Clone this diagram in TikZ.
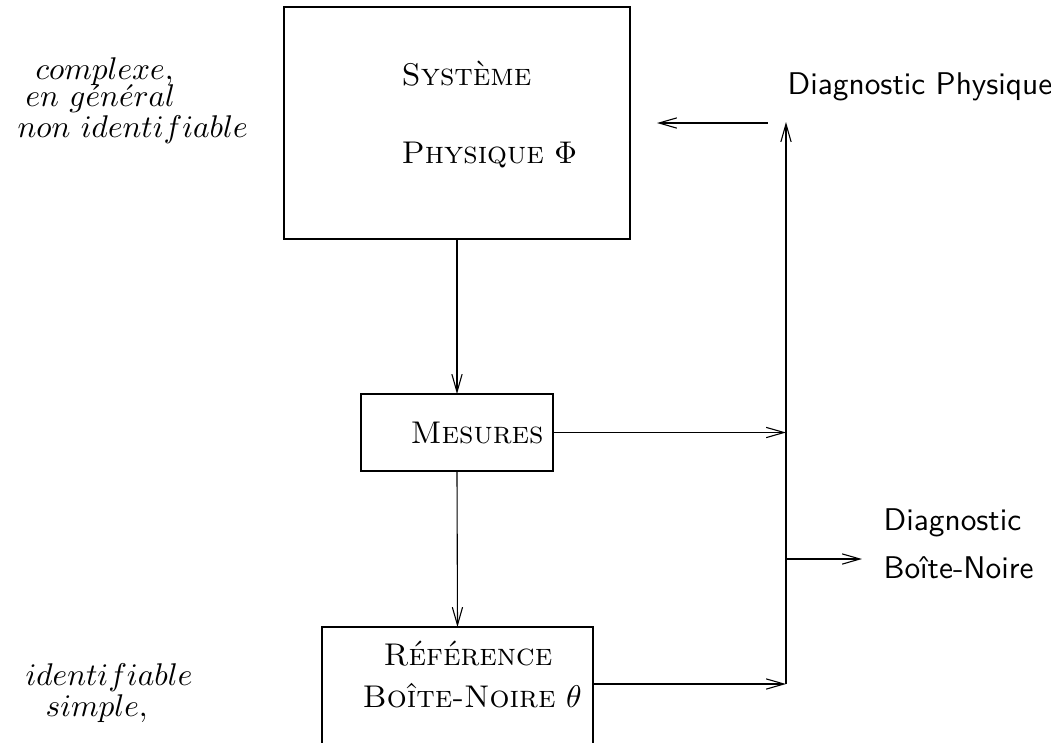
\documentclass[tikz,border=0pt]{standalone}
\usetikzlibrary{arrows.meta}

\newcommand\pxu{0.0112cm}

\begin{document}
\begin{tikzpicture}[
  x=\pxu, y=-\pxu,
  arr/.style={-{Straight Barb[length=2.0mm, width=1.15mm]}, line width=0.35pt},
  box/.style={rectangle, draw, line width=0.45pt, inner sep=0pt, outer sep=0pt},
  lbl/.style={inner sep=0pt, anchor=base west},
  note/.style={lbl, font=\normalsize},
  diag/.style={lbl, font=\sffamily},
]
\useasboundingbox (0,0) rectangle (1051,742);
\clip (0,0) rectangle (1051,742);

% ---------------------------------------------------------------- boxes
\node[box, minimum width=346*\pxu, minimum height=232*\pxu] (sys) at (457,123) {};
\node[box, minimum width=192*\pxu, minimum height=77*\pxu]  (mes) at (457,432.5) {};
\node[box, minimum width=271*\pxu, minimum height=148*\pxu] (ref) at (457.5,701) {};

\node[lbl] (sys1) at (401,85)  {\textsc{Système}};
\node[lbl] (sys2) at (401,163) {\textsc{Physique} $\Phi$};
\node[lbl] (mes1) at (410,443) {\textsc{Mesures}};
\node[lbl] (ref1) at (383,665) {\textsc{Référence}};
\node[lbl] (ref2) at (362,707) {\textsc{Boîte-Noire} $\theta$};

% ---------------------------------------------------------------- notes
\node[note] (cpx1) at (35,79)  {$complexe,$};
\node[note] (cpx2) at (25,106) {$en\ g\acute{e}n\acute{e}ral$};
\node[note] (cpx3) at (17,137) {$non\ identifiable$};
\node[note] (smp1) at (25,685) {$identifiable$};
\node[note] (smp2) at (45,716) {$simple,$};

\node[diag] (dphy) at (787,94)  {Diagnostic Physique};
\node[diag] (dbn1) at (883,530) {Diagnostic};
\node[diag] (dbn2) at (883,578) {Boîte-Noire};

% ---------------------------------------------------------------- bus
\coordinate (btop) at (786,122);
\coordinate (bmes) at (786,432.5);
\coordinate (bnoir) at (786,559);
\coordinate (bbot) at (786,684);
\coordinate (tnoir) at (862,559);
\coordinate (phy0) at (768,123);
\coordinate (phy1) at (657,123);

% ---------------------------------------------------------------- arrows
\draw[arr] (sys.south) -- (mes.north);
\draw[arr] (mes.south) -- (ref.north);
\draw[arr] (mes.east) -- (bmes);
\draw[arr] (ref.east |- bbot) -- (bbot);
\draw[arr] (bbot) -- (btop);
\draw[arr] (bnoir) -- (tnoir);
\draw[arr] (phy0) -- (phy1);

\end{tikzpicture}
\end{document}
